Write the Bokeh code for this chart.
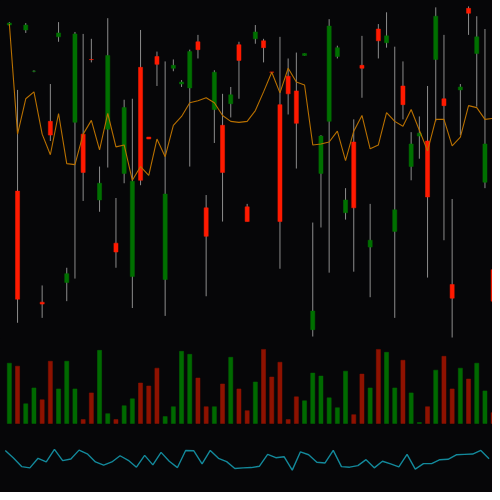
from bokeh.plotting import figure
from bokeh.layouts import column
from bokeh.models import Range1d, ColumnDataSource
from bokeh.embed import file_html
from bokeh.resources import INLINE

# ---- data ----
opens = [32.5, 15.6, 32.0, 27.8, 4.3, 22.7, 31.3, 6.3, 22.6, 21.4,
         29.0, 14.7, 21.9, 10.3, 17.4, 6.9, 28.2, 21.1, 29.3, 6.6,
         28.1, 26.5, 26.1, 30.8, 13.9, 23.9, 22.3, 24.5, 30.5, 14.0,
         31.1, 30.9, 27.72, 24.4, 27.3, 25.8, 29.4, 1.5, 17.4, 22.7,
         29.3, 13.4, 20.6, 28.4, 9.9, 32.1, 30.7, 11.5, 26.3, 18.1,
         21.2, 20.7, 29.0, 25.0, 6.1, 25.9, 34.2, 29.6, 16.5, 7.6]
highs = [32.8, 25.9, 32.7, 27.9, 6.0, 26.5, 32.8, 7.8, 31.8, 31.6,
         31.1, 18.1, 33.2, 14.9, 24.9, 25.0, 32.0, 21.1, 29.8, 28.8,
         29.0, 26.9, 30.0, 31.5, 15.2, 27.9, 25.5, 26.2, 30.8, 14.3,
         32.5, 31.1, 27.72, 31.3, 29.1, 29.7, 29.6, 12.4, 21.3, 33.1,
         30.4, 15.9, 22.9, 31.4, 14.3, 32.6, 33.8, 30.3, 28.8, 21.6,
         23.2, 26.3, 34.3, 31.5, 14.8, 26.5, 34.4, 33.4, 32.1, 8.0]
lows = [32.4, 2.2, 31.7, 27.7, 2.7, 20.7, 30.8, 4.4, 6.7, 14.6,
        28.7, 13.5, 18.0, 7.8, 16.4, 3.7, 16.2, 20.9, 26.3, 2.9,
        27.8, 26.2, 18.1, 29.1, 4.9, 20.5, 12.5, 23.1, 25.0, 12.5,
        30.6, 28.7, 27.7, 7.7, 23.4, 17.9, 29.4, 0.8, 11.9, 7.3,
        29.1, 12.7, 7.4, 25.1, 4.8, 29.1, 30.2, 2.7, 22.9, 16.7,
        18.9, 6.8, 22.7, 10.6, 0.7, 21.3, 31.5, 24.2, 15.9, 4.0]
closes = [32.7, 4.6, 32.5, 27.8, 4.1, 21.3, 31.7, 7.2, 31.6, 17.5,
          28.98, 16.4, 29.4, 9.4, 24.1, 16.6, 16.7, 20.9, 28.5, 15.3,
          28.4, 26.7, 29.8, 30.0, 11.0, 27.7, 17.5, 25.4, 28.9, 12.5,
          31.8, 30.2, 27.7, 12.5, 25.5, 22.5, 29.6, 3.4, 21.2, 32.4,
          30.2, 14.7, 13.9, 28.1, 10.6, 30.9, 31.4, 13.7, 24.4, 20.4,
          21.5, 15.0, 33.4, 24.3, 4.7, 26.2, 33.7, 31.3, 20.4, 4.4]
ma_line = [32.6, 21.4, 25.0, 25.7, 21.4, 19.3, 23.5, 18.4, 18.3, 21.4,
           22.8, 19.8, 23.5, 20.1, 20.3, 16.7, 18.1, 17.2, 20.9, 19.1,
           22.3, 23.2, 24.6, 24.8, 25.1, 24.6, 23.3, 22.7, 22.6, 22.7,
           23.8, 25.7, 27.7, 25.6, 28.1, 26.7, 26.4, 20.3, 20.4, 20.6,
           21.7, 18.7, 21.7, 23.3, 19.9, 20.3, 23.6, 22.7, 22.2, 23.9,
           21.8, 19.7, 22.9, 22.9, 20.2, 21.1, 24.3, 24.1, 22.9, 23.0]
volumes = [61, 58, 20, 36, 24, 63, 35, 63, 35, 4,
           31, 74, 10, 4, 18, 25, 41, 38, 56, 7,
           17, 73, 70, 46, 17, 17, 40, 67, 35, 13,
           42, 75, 47, 62, 4, 27, 23, 51, 48, 26,
           16, 53, 9, 50, 36, 75, 72, 36, 64, 31,
           1, 17, 54, 68, 35, 56, 45, 61, 33, 11]
oscillator = [42.7, 35.0, 26.3, 25.0, 34.7, 31.0, 43.7, 32.3, 34.0, 43.0,
              39.3, 31.0, 27.7, 31.0, 37.3, 32.7, 25.7, 37.7, 28.0, 40.7,
              31.7, 25.3, 42.7, 42.3, 29.0, 42.7, 34.7, 31.3, 24.3, 25.0,
              25.3, 26.7, 38.7, 35.3, 36.3, 22.7, 41.3, 38.3, 30.7, 30.0,
              42.7, 26.3, 25.7, 27.3, 33.3, 25.0, 31.7, 29.0, 26.0, 38.7,
              23.7, 29.3, 29.3, 33.3, 33.7, 38.3, 38.7, 39.0, 42.7, 34.3]

BG = "#060608"
UP_BODY = "#007000"
DN_BODY = "#ff1a00"
UP_VOL = "#006a00"
DN_VOL = "#8e1200"
WICK = "#8c8c8c"
MA_COL = "#b87000"
OSC_COL = "#13899b"

n = len(opens)
idx = list(range(n))
up = [c >= o for o, c in zip(opens, closes)]
src = ColumnDataSource(dict(
    x=idx,
    o=opens, h=highs, l=lows, c=closes,
    top=[max(o, c) for o, c in zip(opens, closes)],
    bot=[min(o, c) for o, c in zip(opens, closes)],
    body=[UP_BODY if u else DN_BODY for u in up],
    vcol=[UP_VOL if u else DN_VOL for u in up],
    vol=volumes,
    ma=ma_line,
    xo=[i - 0.5 for i in idx],
    osc=oscillator,
))

xr = Range1d(-1.08, 58.92)
W = 492


def make(h, yr):
    f = figure(width=W, height=h, x_range=xr, y_range=yr,
               output_backend="svg", toolbar_location=None,
               min_border=0, min_border_left=0, min_border_right=0,
               min_border_top=0, min_border_bottom=0)
    f.background_fill_color = BG
    f.border_fill_color = BG
    f.outline_line_color = None
    f.xaxis.visible = False
    f.yaxis.visible = False
    f.xgrid.visible = False
    f.ygrid.visible = False
    return f


p1 = make(338, Range1d(0.6, 35.0))
p1.segment(x0="x", y0="h", x1="x", y1="l", source=src, line_color=WICK, line_width=1)
p1.vbar(x="x", top="top", bottom="bot", width=0.5, source=src,
        fill_color="body", line_color="body", line_width=0.5)
p1.line(x="x", y="ma", source=src, line_color=MA_COL, line_width=1.1)

p2 = make(87, Range1d(-2, 86))
p2.vbar(x="x", top="vol", bottom=0, width=0.5, source=src,
        fill_color="vcol", line_color="vcol", line_width=0.5)

p3 = make(67, Range1d(0, 68))
p3.line(x="xo", y="osc", source=src, line_color=OSC_COL, line_width=1.4)

p = column(p1, p2, p3, spacing=0)
p.background = BG

open("out.html", "w").write(file_html(p, INLINE))
